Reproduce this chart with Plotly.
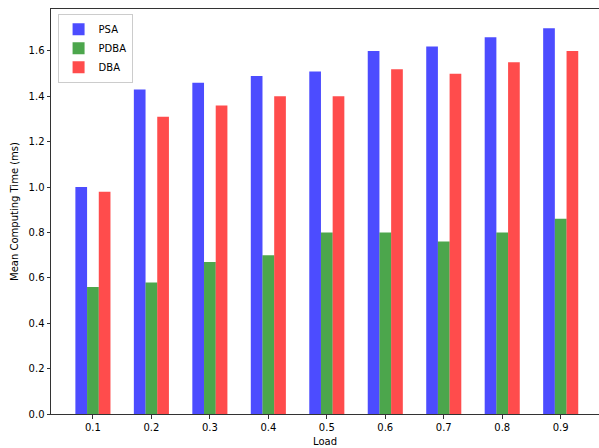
import plotly.graph_objects as go

loads = ["0.1", "0.2", "0.3", "0.4", "0.5", "0.6", "0.7", "0.8", "0.9"]
psa = [1.00, 1.43, 1.46, 1.49, 1.51, 1.60, 1.62, 1.66, 1.70]
pdba = [0.56, 0.58, 0.67, 0.70, 0.80, 0.80, 0.76, 0.80, 0.86]
dba = [0.98, 1.31, 1.36, 1.40, 1.40, 1.52, 1.50, 1.55, 1.60]

series = [
    ("PSA", psa, "rgba(0,0,255,0.7)", -0.3),
    ("PDBA", pdba, "rgba(0,128,0,0.7)", -0.1),
    ("DBA", dba, "rgba(255,0,0,0.7)", 0.1),
]

idx = list(range(len(loads)))
fig = go.Figure()
for name, vals, color, off in series:
    fig.add_trace(go.Bar(
        x=idx, y=vals, name=name, width=0.2, offset=off,
        marker=dict(color=color, line=dict(width=0)),
    ))

font = dict(family="DejaVu Sans", size=10, color="#000000")
fig.update_layout(
    width=599, height=448,
    margin=dict(l=51, r=0, t=9, b=34),
    barmode="overlay",
    plot_bgcolor="white", paper_bgcolor="white",
    font=font,
    showlegend=True,
    legend=dict(
        x=0.012, y=0.988, xanchor="left", yanchor="top",
        bordercolor="#cccccc", borderwidth=1, bgcolor="rgba(255,255,255,0.8)",
        font=dict(family="DejaVu Sans", size=10, color="#000000"),
        itemwidth=30, tracegroupgap=0,
    ),
    xaxis=dict(
        range=[-0.717, 8.655],
        tickmode="array", tickvals=idx, ticktext=loads,
        showline=True, linecolor="#333333", linewidth=1, mirror=True,
        ticks="outside", ticklen=3.5, tickcolor="#333333",
        showgrid=False, zeroline=False,
        title=dict(text="Load", standoff=6, font=font),
    ),
    yaxis=dict(
        range=[0, 1.785],
        tickmode="array", tickvals=[0, 0.2, 0.4, 0.6, 0.8, 1.0, 1.2, 1.4, 1.6],
        ticktext=["0.0", "0.2", "0.4", "0.6", "0.8", "1.0", "1.2", "1.4", "1.6"],
        showline=True, linecolor="#333333", linewidth=1,
        ticks="outside", ticklen=3.5, tickcolor="#333333",
        showgrid=False, zeroline=False,
        title=dict(text="Mean Computing Time (ms)", standoff=8, font=font),
    ),
)

fig.write_html("out.html")
